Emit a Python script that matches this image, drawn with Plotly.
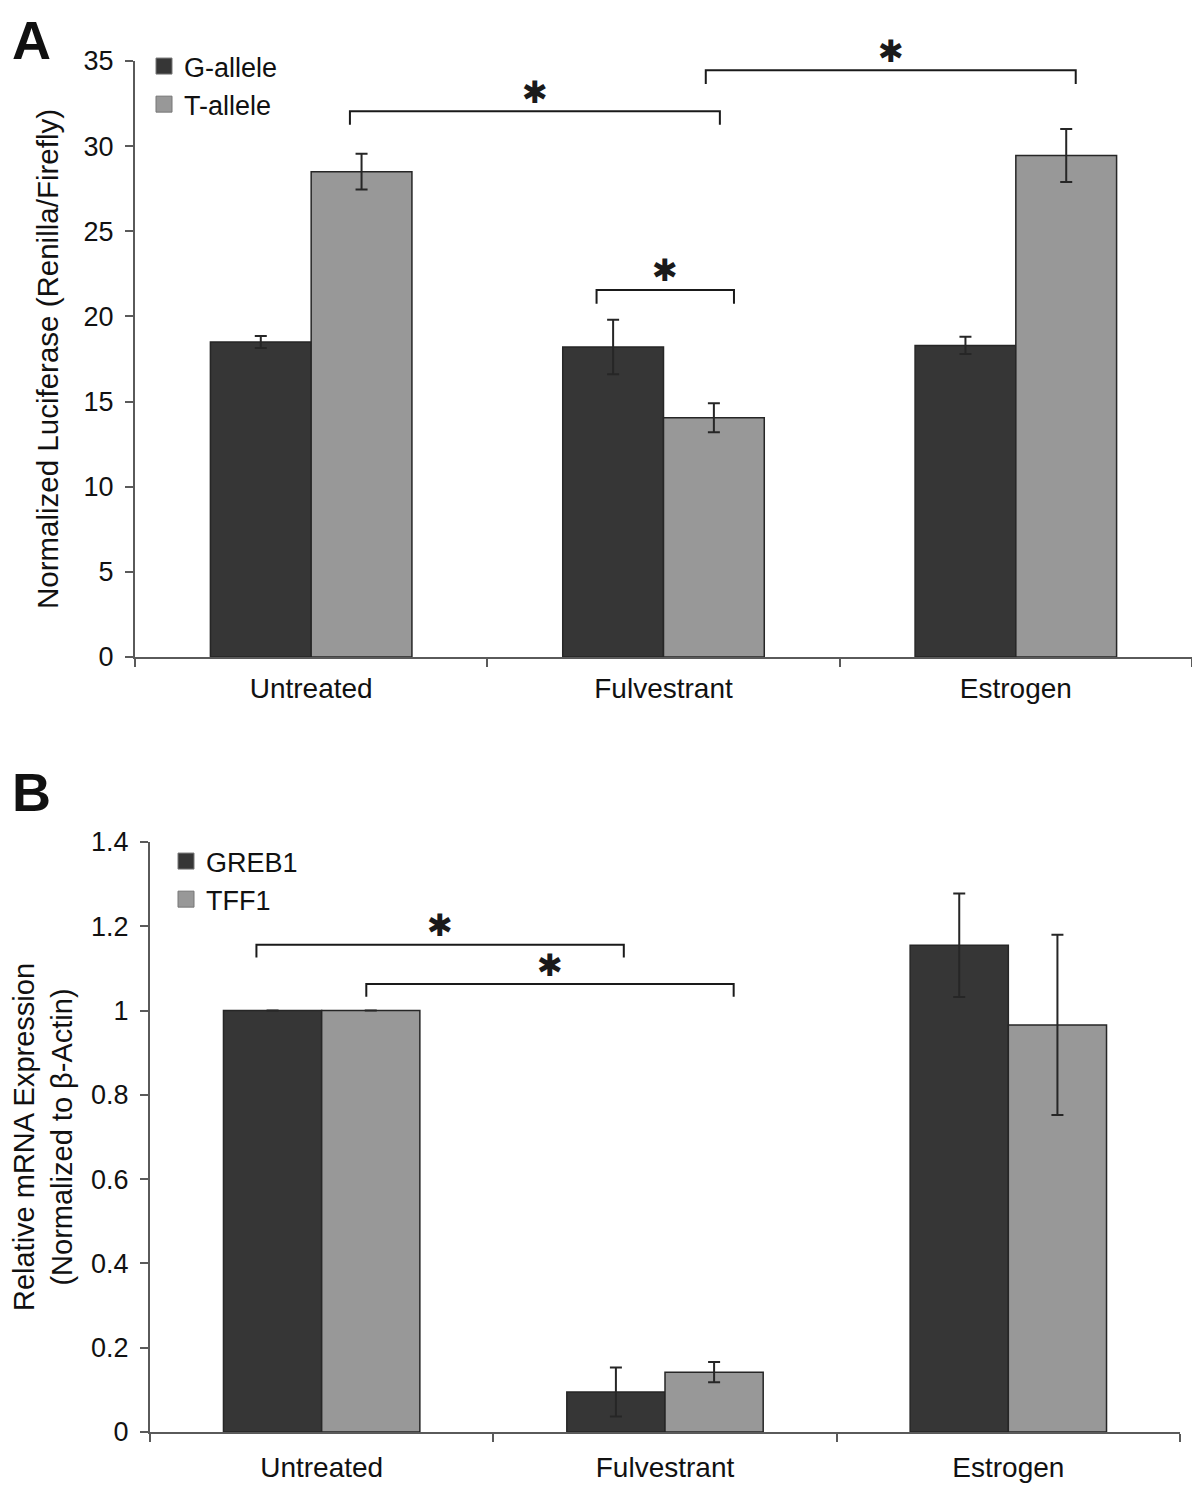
import plotly.graph_objects as go

# ---------------- data ----------------
categories = ["Untreated", "Fulvestrant", "Estrogen"]

# Panel A: normalized luciferase
a_series = ["G-allele", "T-allele"]
a_g_values = [18.5, 18.2, 18.3]
a_g_errors = [0.35, 1.6, 0.5]
a_t_values = [28.5, 14.05, 29.45]
a_t_errors = [1.05, 0.85, 1.55]

# Panel B: relative mRNA expression
b_series = ["GREB1", "TFF1"]
b_greb1_values = [1.0, 0.095, 1.155]
b_greb1_errors = [0.0, 0.058, 0.123]
b_tff1_values = [1.0, 0.142, 0.966]
b_tff1_errors = [0.0, 0.024, 0.214]

a_yticks = [0, 5, 10, 15, 20, 25, 30, 35]
b_yticks = [0, 0.2, 0.4, 0.6, 0.8, 1.0, 1.2, 1.4]
b_yticklabels = ["0", "0.2", "0.4", "0.6", "0.8", "1", "1.2", "1.4"]

# significance brackets: start / end (category index units), bar level, drop, star level
a_brackets_x0 = [0.11, 1.12, 0.81]
a_brackets_x1 = [1.16, 2.17, 1.20]
a_brackets_y = [32.05, 34.45, 21.55]
a_brackets_drop = [0.8, 0.8, 0.8]
a_star_y = [33.2, 35.6, 22.7]
b_brackets_x0 = [-0.19, 0.13]
b_brackets_x1 = [0.88, 1.20]
b_brackets_y = [1.156, 1.063]
b_brackets_drop = [0.03, 0.03]
b_star_y = [1.203, 1.108]

A_MAX = 35
B_MAX = 1.4

DARK = "#363636"
LIGHT = "#989898"
EDGE = "#262626"
FONT = "Liberation Sans, Arial, sans-serif"

# page has an 8px body margin; figure fills the window from there
W, H, OFF = 1184, 1477, 8


def px_x(p):
    return (p - OFF) / W


def px_y(p):
    return 1 - (p - OFF) / H


fig = go.Figure()


def add_bar(name, vals, errs, color, xa, ya):
    fig.add_trace(go.Bar(
        name=name, x=categories, y=vals, showlegend=False,
        marker=dict(color=color, line=dict(color=EDGE, width=1.5)),
        error_y=dict(type="data", array=errs, visible=True, color="#262626",
                     thickness=2, width=6),
        xaxis=xa, yaxis=ya,
    ))


def add_legend_item(name, color, xa, ya, legend):
    fig.add_trace(go.Scatter(
        name=name, x=[None], y=[None], mode="markers",
        marker=dict(symbol="square", size=20, color=color,
                    line=dict(color="#777", width=1)),
        xaxis=xa, yaxis=ya, legend=legend, showlegend=True,
    ))


add_bar(a_series[0], a_g_values, a_g_errors, DARK, "x", "y")
add_bar(a_series[1], a_t_values, a_t_errors, LIGHT, "x", "y")
add_bar(b_series[0], b_greb1_values, b_greb1_errors, DARK, "x2", "y2")
add_bar(b_series[1], b_tff1_values, b_tff1_errors, LIGHT, "x2", "y2")
add_legend_item(a_series[0], DARK, "x", "y", "legend")
add_legend_item(a_series[1], LIGHT, "x", "y", "legend")
add_legend_item(b_series[0], DARK, "x2", "y2", "legend2")
add_legend_item(b_series[1], LIGHT, "x2", "y2", "legend2")

shapes = []
annotations = []


def add_brackets(x0s, x1s, ys, drops, stars, xref, yref, ymax):
    for x0, x1, y, d, s in zip(x0s, x1s, ys, drops, stars):
        shapes.append(dict(
            type="path", xref=xref, yref=yref,
            path=f"M {x0},{y - d} L {x0},{y} L {x1},{y} L {x1},{y - d}",
            line=dict(color="#1a1a1a", width=2),
        ))
        annotations.append(dict(
            x=(x0 + x1) / 2, y=s / ymax, xref=xref, yref=yref + " domain",
            text="✱", showarrow=False, yanchor="middle", xanchor="center",
            font=dict(family="DejaVu Sans", size=31, color="#1a1a1a"),
        ))


add_brackets(a_brackets_x0, a_brackets_x1, a_brackets_y, a_brackets_drop, a_star_y,
             "x", "y", A_MAX)
add_brackets(b_brackets_x0, b_brackets_x1, b_brackets_y, b_brackets_drop, b_star_y,
             "x2", "y2", B_MAX)

annotations.append(dict(x=px_x(11), y=px_y(40), xref="paper", yref="paper", text="<b>A</b>",
                        showarrow=False, xanchor="left", yanchor="middle", borderpad=0,
                        font=dict(family=FONT, size=54, color="#111")))
annotations.append(dict(x=px_x(11), y=px_y(792), xref="paper", yref="paper", text="<b>B</b>",
                        showarrow=False, xanchor="left", yanchor="middle", borderpad=0,
                        font=dict(family=FONT, size=54, color="#111")))

axis_common = dict(showgrid=False, zeroline=False, showline=True, linecolor="#5a5a5a",
                   linewidth=2, ticks="outside", tickcolor="#5a5a5a", tickwidth=2,
                   ticklen=8, color="#111", automargin=False)

fig.update_layout(
    width=W, height=H,
    margin=dict(l=0, r=0, t=0, b=0, pad=0, autoexpand=False),
    paper_bgcolor="white", plot_bgcolor="white",
    barmode="group", bargap=0.428, bargroupgap=0,
    font=dict(family=FONT, color="#111"),
    xaxis=dict(domain=[px_x(135), 1.0], anchor="y", tickson="boundaries",
               tickfont=dict(size=28), ticklabelstandoff=5, **axis_common),
    yaxis=dict(domain=[px_y(657), px_y(61)], anchor="x", range=[0, A_MAX],
               tickvals=a_yticks, tickfont=dict(size=27), ticklabelstandoff=6,
               title=dict(text="Normalized Luciferase (Renilla/Firefly)",
                          font=dict(size=29.5), standoff=16),
               **axis_common),
    xaxis2=dict(domain=[px_x(150), px_x(1180)], anchor="y2", tickson="boundaries",
                tickfont=dict(size=28), ticklabelstandoff=9, **axis_common),
    yaxis2=dict(domain=[px_y(1432), px_y(842)], anchor="x2", range=[0, B_MAX],
                tickvals=b_yticks, ticktext=b_yticklabels, tickfont=dict(size=27),
                ticklabelstandoff=6,
                title=dict(text="Relative mRNA Expression<br>(Normalized to β-Actin)",
                           font=dict(size=29), standoff=18),
                **axis_common),
    legend=dict(x=px_x(144), y=px_y(42), xanchor="left", yanchor="top",
                font=dict(size=27), bgcolor="rgba(0,0,0,0)", tracegroupgap=0,
                itemsizing="trace"),
    legend2=dict(x=px_x(166), y=px_y(837), xanchor="left", yanchor="top",
                 font=dict(size=27), bgcolor="rgba(0,0,0,0)", tracegroupgap=0,
                 itemsizing="trace"),
    shapes=shapes,
    annotations=annotations,
)

fig.write_html("out.html")
